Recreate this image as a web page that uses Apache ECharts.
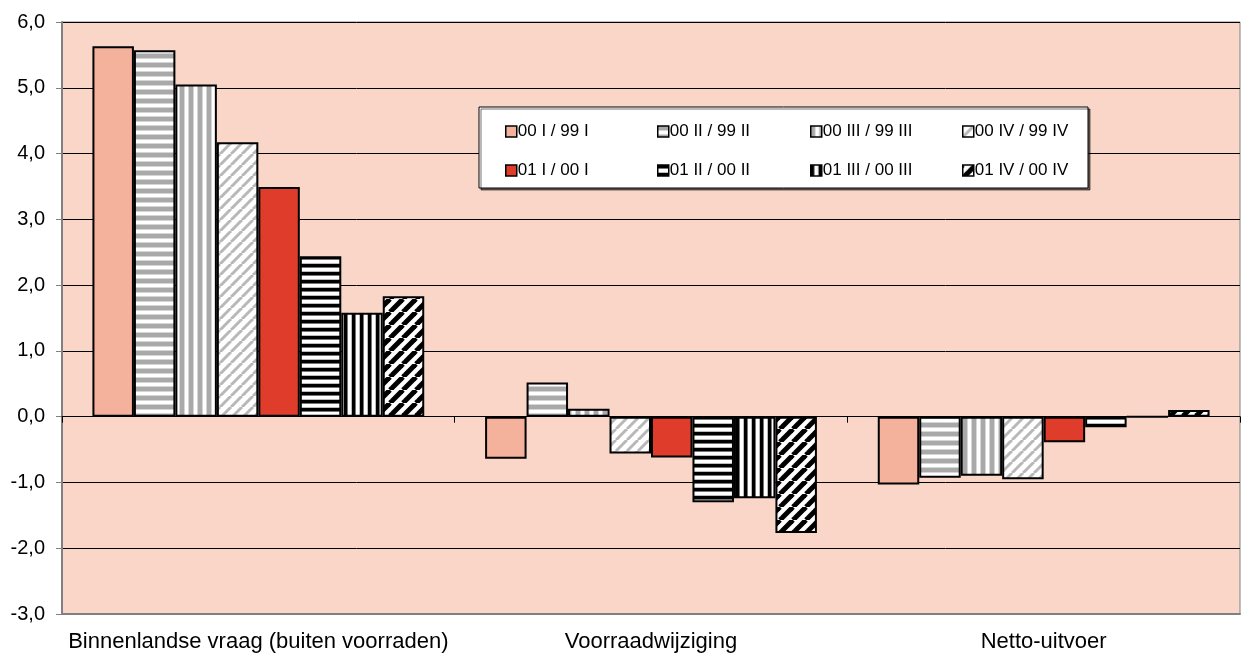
<!DOCTYPE html>
<html>
<head>
<meta charset="utf-8">
<script src="https://cdn.jsdelivr.net/npm/echarts@6/dist/echarts.min.js"></script>
<style>
  html, body { margin: 0; padding: 0; background: #fff; }
  #chart { width: 1245px; height: 658px; }
</style>
</head>
<body>
<div id="chart"></div>
<script>
// categories and values
const categories = ['Binnenlandse vraag (buiten voorraden)', 'Voorraadwijziging', 'Netto-uitvoer']
const seriesNames = ['00 I / 99 I', '00 II / 99 II', '00 III / 99 III', '00 IV / 99 IV',
                     '01 I / 00 I', '01 II / 00 II', '01 III / 00 III', '01 IV / 00 IV']
const s00I   = [5.63, -0.64, -1.03]
const s00II  = [5.57,  0.52, -0.93]
const s00III = [5.05,  0.12, -0.90]
const s00IV  = [4.17, -0.56, -0.95]
const s01I   = [3.49, -0.62, -0.39]
const s01II  = [2.44, -1.30, -0.16]
const s01III = [1.58, -1.24,  0]
const s01IV  = [1.83, -1.77,  0.10]
const seriesValues = [s00I, s00II, s00III, s00IV, s01I, s01II, s01III, s01IV]

// small canvas tiles for the hatch fills
function stripeTile(dir, period, bands){
    const c = document.createElement('canvas')
    c.width = period; c.height = period
    const ctx = c.getContext('2d')
    ctx.fillStyle = '#fff'
    ctx.fillRect(0, 0, period, period)
    let pos = 0
    bands.forEach(b => {
        ctx.fillStyle = b[1]
        if(dir === 'h') ctx.fillRect(0, pos, period, b[0])
        else ctx.fillRect(pos, 0, b[0], period)
        pos += b[0]
    })
    return {image: c, repeat: 'repeat'}
}
function diagTile(period, width, color){
    const c = document.createElement('canvas')
    c.width = period; c.height = period
    const ctx = c.getContext('2d')
    ctx.fillStyle = '#fff'
    ctx.fillRect(0, 0, period, period)
    ctx.strokeStyle = color
    ctx.lineWidth = width
    for(let k = -1; k <= 1; k++){
        ctx.beginPath()
        ctx.moveTo(k * period, period)
        ctx.lineTo(k * period + period, 0)
        ctx.stroke()
    }
    return {image: c, repeat: 'repeat'}
}

const grayBands = [[4, '#a9a9a9'], [1, '#d6d6d6'], [3, '#ffffff'], [1, '#d6d6d6']]
const fills = [
    '#f4b29c',
    stripeTile('h', 9, grayBands),
    stripeTile('v', 9, grayBands),
    diagTile(11, 3, '#b8b8b8'),
    '#e03c2c',
    stripeTile('h', 8, [[3, '#000'], [1, '#777'], [3, '#fff'], [1, '#bbb']]),
    stripeTile('v', 8, [[3, '#000'], [1, '#777'], [3, '#fff'], [1, '#bbb']]),
    diagTile(13, 5, '#000')
]

const series = seriesNames.map((name, i) => ({
    name: name,
    type: 'bar',
    barGap: '0%',
    barCategoryGap: '15.5%',
    z: 2,
    itemStyle: {
        color: fills[i],
        borderColor: '#000',
        borderWidth: 2
    },
    data: seriesValues[i]
}))

// four legend columns, two rows each
const legendCols = [500, 652, 805, 957]
const legends = legendCols.map((x, i) => ({
    orient: 'vertical',
    left: x,
    top: 118,
    itemGap: 22,
    itemWidth: 11,
    itemHeight: 11,
    icon: 'rect',
    z: 6,
    selectedMode: false,
    itemStyle: {borderColor: '#000', borderWidth: 1.5},
    textStyle: {fontFamily: 'Liberation Sans', fontSize: 17, color: '#000', padding: [0, 0, 0, -4]},
    data: [seriesNames[i], seriesNames[i + 4]]
}))

const myChart = echarts.init(document.getElementById('chart'))
const option = {
    animation: false,
    backgroundColor: '#fff',
    textStyle: {fontFamily: 'Liberation Sans'},
    grid: {
        left: 62, right: 5, top: 22, bottom: 44,
        outerBoundsMode: 'none',
        containLabel: false,
        show: true,
        backgroundColor: '#f9d6c8',
        borderColor: '#808080',
        borderWidth: 1
    },
    legend: legends,
    graphic: [{
        type: 'rect',
        z: 5,
        shape: {x: 479, y: 107, width: 609, height: 81},
        style: {
            fill: '#fff', stroke: '#000', lineWidth: 1,
            shadowColor: 'rgba(0,0,0,0.55)', shadowOffsetX: 2, shadowOffsetY: 2, shadowBlur: 0
        }
    }],
    xAxis: [{
        // bottom axis: carries the category labels
        type: 'category',
        data: categories,
        position: 'bottom',
        axisLine: {onZero: false, lineStyle: {color: '#808080', width: 2}},
        axisTick: {show: false},
        axisLabel: {interval: 0, margin: 17, fontSize: 22, color: '#000', fontFamily: 'Liberation Sans'}
    }, {
        // zero line with the small group ticks
        type: 'category',
        data: categories,
        position: 'bottom',
        axisLine: {onZero: true, lineStyle: {color: '#000', width: 1}},
        axisTick: {show: true, length: 6, inside: false, lineStyle: {color: '#000'}},
        axisLabel: {show: false},
        z: 3
    }],
    yAxis: {
        type: 'value',
        min: -3, max: 6, interval: 1,
        axisLine: {show: true, lineStyle: {color: '#808080', width: 2}},
        axisTick: {show: true, length: 6, lineStyle: {color: '#808080'}},
        axisLabel: {
            fontSize: 20, color: '#000', margin: 17, fontFamily: 'Liberation Sans',
            formatter: v => v.toFixed(1).replace('.', ',')
        },
        splitLine: {show: true, lineStyle: {color: '#000', width: 1}}
    },
    series: series
}
option && myChart.setOption(option)
</script>
</body>
</html>
